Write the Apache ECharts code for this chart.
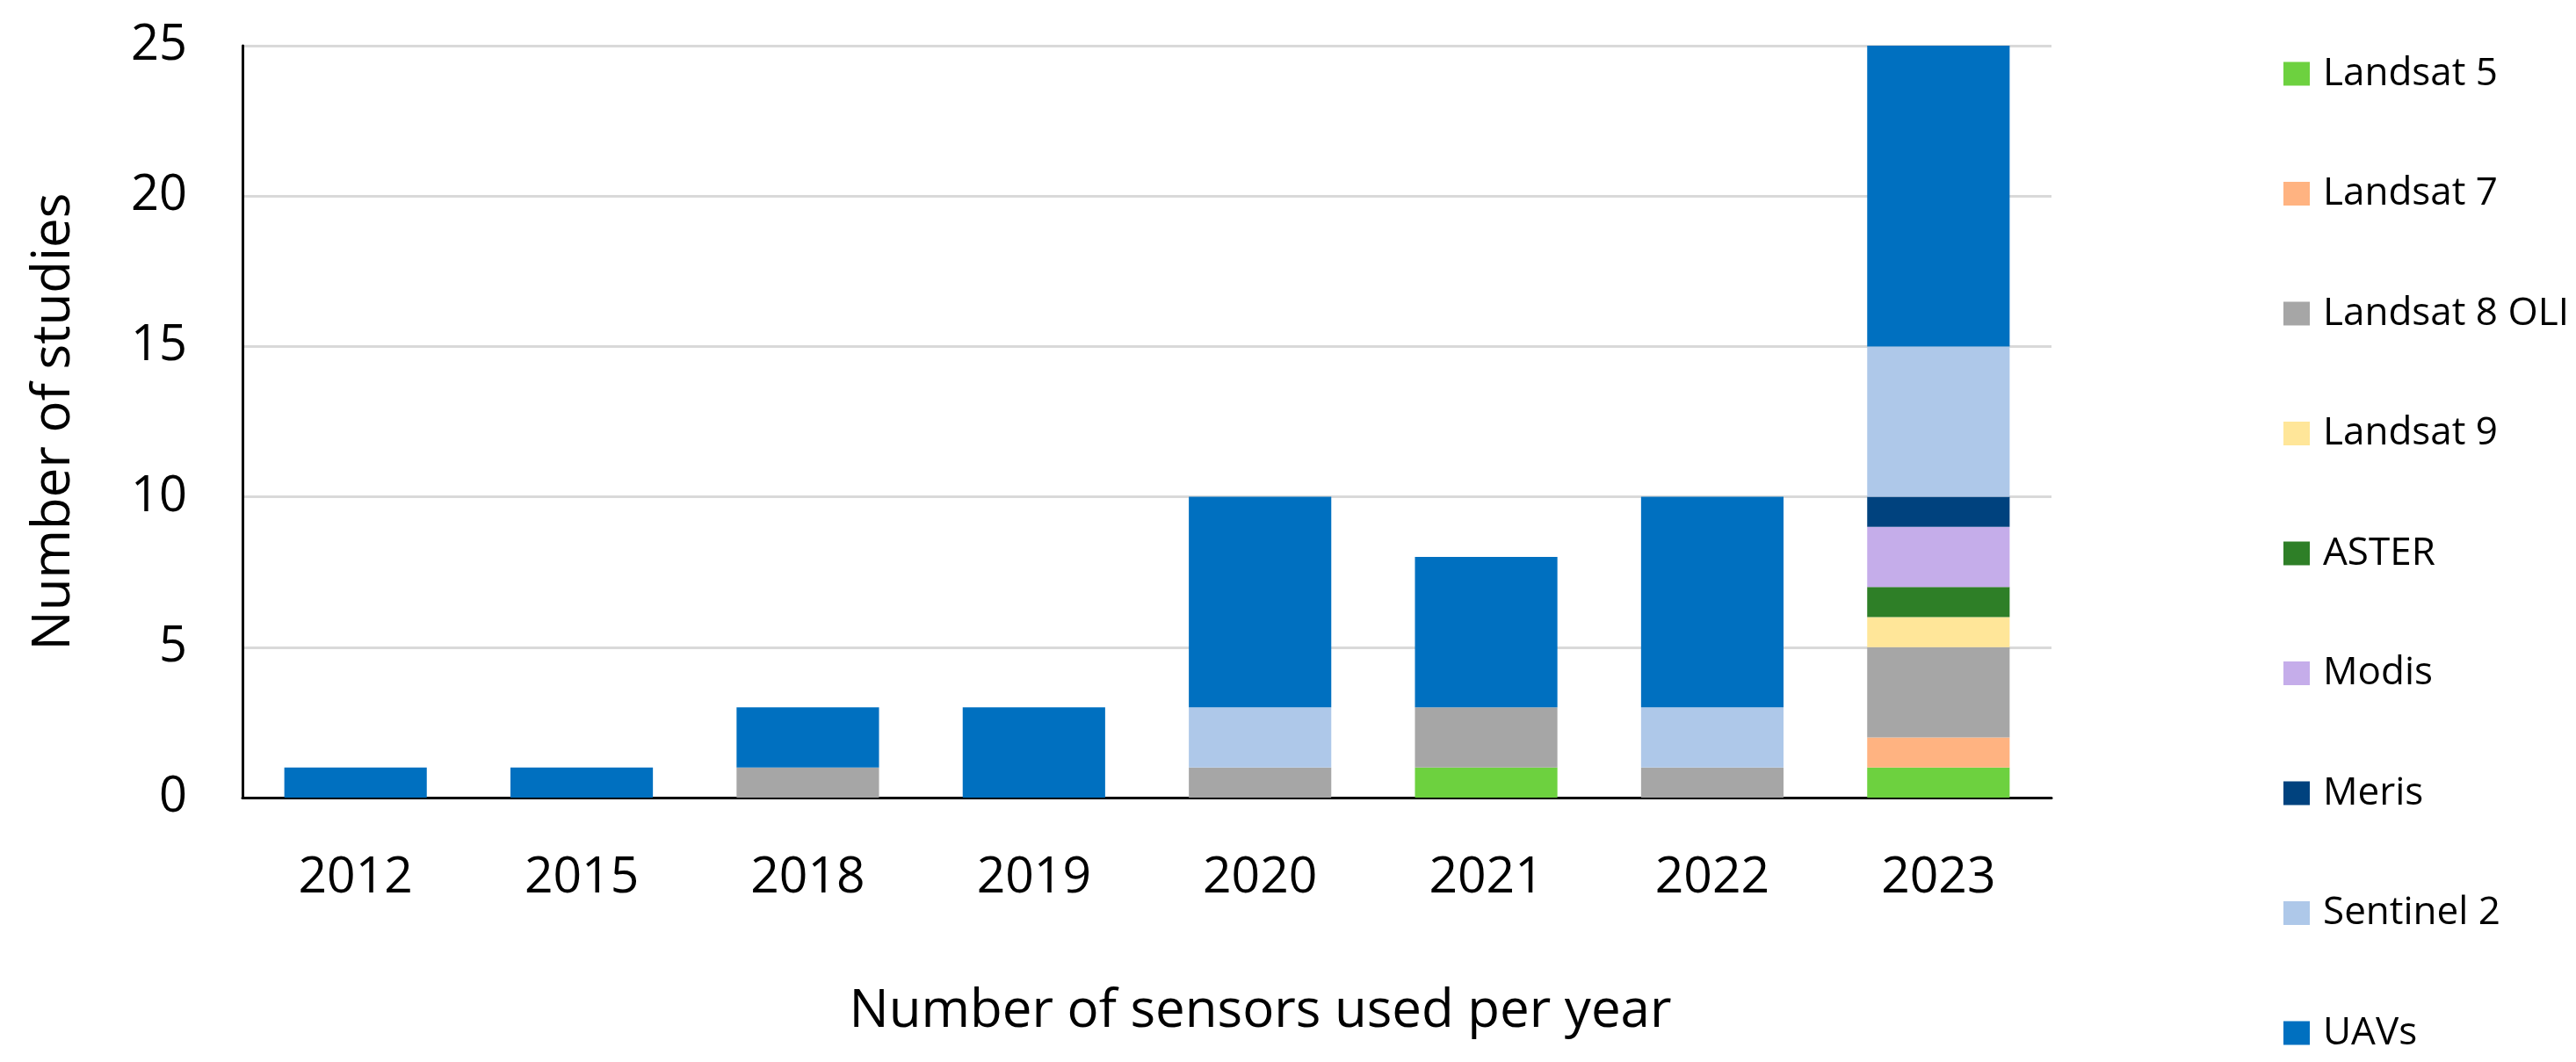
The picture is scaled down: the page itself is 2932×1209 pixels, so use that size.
<!DOCTYPE html>
<html>
<head>
<meta charset="utf-8">
<script src="https://cdn.jsdelivr.net/npm/echarts@6/dist/echarts.min.js"></script>
<style>
html,body{margin:0;padding:0;background:#fff;}
#chart{width:2932px;height:1209px;}
</style>
</head>
<body>
<div id="chart"></div>
<script>
const years = ['2012','2015','2018','2019','2020','2021','2022','2023'];
const sensorNames = ['Landsat 5','Landsat 7','Landsat 8 OLI','Landsat 9','ASTER','Modis','Meris','Sentinel 2','UAVs'];
const landsat5  = [0,0,0,0,0,1,0,1];
const landsat7  = [0,0,0,0,0,0,0,1];
const landsat8  = [0,0,1,0,1,2,1,3];
const landsat9  = [0,0,0,0,0,0,0,1];
const aster     = [0,0,0,0,0,0,0,1];
const modis     = [0,0,0,0,0,0,0,2];
const meris     = [0,0,0,0,0,0,0,1];
const sentinel2 = [0,0,0,0,2,0,2,5];
const uavs      = [1,1,2,3,7,5,7,10];
const sensorValues = [landsat5, landsat7, landsat8, landsat9, aster, modis, meris, sentinel2, uavs];
const sensorColors = ['#6DD13F','#FFB381','#A6A6A6','#FFE699','#2E7F27','#C5ADEA','#00427E','#AEC8E9','#0070C0'];
const yTicks = {min:0, max:25, interval:5};

const chart = echarts.init(document.getElementById('chart'));
const series = sensorNames.map((name, i) => ({
  name: name,
  type: 'bar',
  stack: 'total',
  barCategoryGap: '37%',
  data: sensorValues[i].map(v => v === 0 ? null : v),
  itemStyle: {color: sensorColors[i]},
  emphasis: {disabled: true}
}));

chart.setOption({
  backgroundColor: '#ffffff',
  animation: false,
  grid: {left: 276, right: 597, top: 52, bottom: 301, containLabel: false},
  legend: {
    orient: 'vertical',
    left: 2594,
    top: 57,
    itemWidth: 30,
    itemHeight: 27,
    itemGap: 92.5,
    icon: 'rect',
    data: sensorNames,
    textStyle: {fontFamily: 'Open Sans', fontSize: 44, lineHeight: 44, color: '#000', padding: [0,0,0,10]}
  },
  xAxis: {
    type: 'category',
    data: years,
    name: 'Number of sensors used per year',
    nameLocation: 'middle',
    nameGap: 244,
    nameTextStyle: {fontFamily: 'Open Sans', fontSize: 60, color: '#000', verticalAlign: 'middle', padding: [0,0,0,258]},
    axisLine: {show: true, lineStyle: {color: '#000', width: 3}},
    axisTick: {show: false},
    axisLabel: {fontFamily: 'Open Sans', fontSize: 57, color: '#000', margin: 92, verticalAlign: 'middle'},
    splitLine: {show: false}
  },
  yAxis: {
    type: 'value',
    min: yTicks.min,
    max: yTicks.max,
    interval: yTicks.interval,
    name: 'Number of studies',
    nameLocation: 'middle',
    nameGap: 214,
    nameTextStyle: {fontFamily: 'Open Sans', fontSize: 60, color: '#000', verticalAlign: 'middle'},
    axisLine: {show: true, lineStyle: {color: '#000', width: 3}},
    axisTick: {show: false},
    axisLabel: {fontFamily: 'Open Sans', fontSize: 56, color: '#000', margin: 63},
    splitLine: {show: true, lineStyle: {color: '#D9D9D9', width: 3}}
  },
  series: series
});
</script>
</body>
</html>
